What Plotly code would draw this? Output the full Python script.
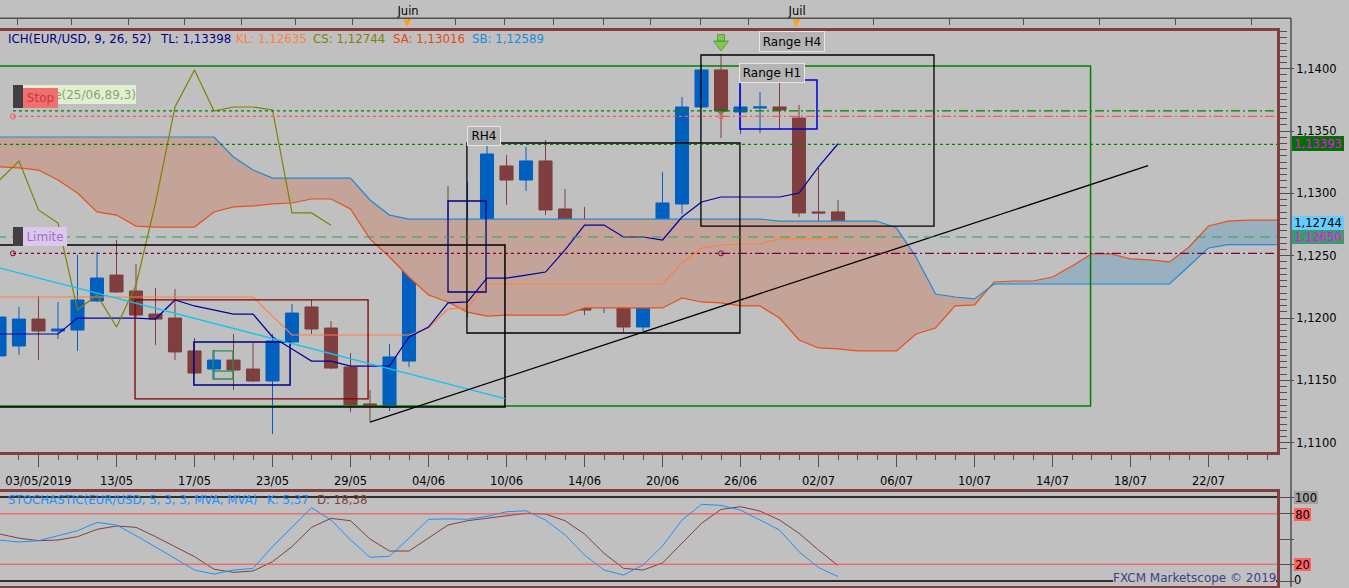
import plotly.graph_objects as go

# daily EUR/USD candles, index 0..43
opens = [1.11696, 1.11776, 1.11992, 1.11896, 1.11904, 1.12137, 1.12345, 1.12217, 1.12032, 1.12000,
         1.11736, 1.11591, 1.11663, 1.11591, 1.11495, 1.11808, 1.12089, 1.11920, 1.11607, 1.11311,
         1.11286, 1.11655, 1.12393, 1.12514, 1.12201, 1.12754, 1.13220, 1.13107, 1.13260, 1.12875,
         1.12770, 1.12089, 1.12185, 1.11928, 1.12257, 1.12915, 1.13693, 1.13990, 1.13653, 1.13685,
         1.13693, 1.13604, 1.12851, 1.12851]
highs = [1.12105, 1.12089, 1.12177, 1.12129, 1.12506, 1.12530, 1.12626, 1.12433, 1.12241, 1.12233,
         1.11840, 1.11744, 1.11872, 1.11800, 1.11872, 1.12113, 1.12145, 1.11976, 1.11720, 1.11423,
         1.11792, 1.12618, 1.12770, 1.13059, 1.13091, 1.13380, 1.13308, 1.13372, 1.13428, 1.13035,
         1.12891, 1.12466, 1.12425, 1.12538, 1.13171, 1.13773, 1.14038, 1.14118, 1.13877, 1.13813,
         1.13885, 1.13709, 1.13204, 1.12947]
lows = [1.11688, 1.11704, 1.11663, 1.11832, 1.11736, 1.12129, 1.12201, 1.12000, 1.11784, 1.11663,
        1.11551, 1.11511, 1.11423, 1.11487, 1.11070, 1.11800, 1.11872, 1.11591, 1.11246, 1.11166,
        1.11254, 1.11607, 1.12265, 1.12193, 1.12008, 1.12746, 1.12907, 1.13019, 1.12826, 1.12690,
        1.12024, 1.12040, 1.11888, 1.11896, 1.12249, 1.12834, 1.13685, 1.13444, 1.13476, 1.13484,
        1.13508, 1.12810, 1.12754, 1.12690]
closes = [1.12008, 1.11992, 1.11896, 1.11912, 1.12145, 1.12321, 1.12209, 1.12024, 1.11992, 1.11728,
          1.11559, 1.11663, 1.11583, 1.11495, 1.11816, 1.12040, 1.11912, 1.11599, 1.11303, 1.11295,
          1.11688, 1.12401, 1.12514, 1.12201, 1.12762, 1.13316, 1.13107, 1.13260, 1.12867, 1.12762,
          1.12064, 1.12185, 1.11928, 1.12265, 1.12923, 1.13693, 1.13990, 1.13661, 1.13693, 1.13693,
          1.13669, 1.12843, 1.12843, 1.12744]

# ichimoku lines
tenkan = [1.11872, 1.11872, 1.11872, 1.11872, 1.12000, 1.12000, 1.12000, 1.12000, 1.11992, 1.12145,
          1.12097, 1.12064, 1.12032, 1.12032, 1.11848, 1.11752, 1.11655, 1.11655, 1.11615, 1.11615,
          1.11615, 1.11848, 1.11928, 1.12121, 1.12129, 1.12321, 1.12321, 1.12345, 1.12369, 1.12546,
          1.12746, 1.12746, 1.12650, 1.12650, 1.12626, 1.12810, 1.12931, 1.12971, 1.12971, 1.12971,
          1.12971, 1.13003, 1.13212, 1.13398]
kijun = [1.12169, 1.12169, 1.12169, 1.12169, 1.12169, 1.12169, 1.12169, 1.12169, 1.12169, 1.12169,
         1.12169, 1.12169, 1.12169, 1.12169, 1.12016, 1.11864, 1.11864, 1.11864, 1.11864, 1.11864,
         1.11864, 1.11864, 1.11920, 1.12073, 1.12081, 1.12273, 1.12273, 1.12273, 1.12273, 1.12273,
         1.12273, 1.12273, 1.12273, 1.12273, 1.12273, 1.12442, 1.12562, 1.12586, 1.12594, 1.12594,
         1.12635, 1.12635, 1.12635, 1.12635]
# senkou spans (already shifted 26 bars forward), index 0..66
senkou_a = [1.13212, 1.13204, 1.13187, 1.13107, 1.13003, 1.12851, 1.12826, 1.12738, 1.12730, 1.12730,
            1.12730, 1.12851, 1.12891, 1.12899, 1.12915, 1.12923, 1.12955, 1.12955, 1.12875, 1.12634,
            1.12490, 1.12329, 1.12185, 1.12129, 1.12048, 1.12016, 1.12024, 1.12024, 1.12024, 1.12024,
            1.12081, 1.12081, 1.12081, 1.12081, 1.12081, 1.12161, 1.12129, 1.12121, 1.12097, 1.12097,
            1.12000, 1.11824, 1.11760, 1.11752, 1.11736, 1.11736, 1.11736, 1.11872, 1.11920, 1.12097,
            1.12105, 1.12289, 1.12297, 1.12297, 1.12329, 1.12417, 1.12514, 1.12514, 1.12474, 1.12466,
            1.12450, 1.12570, 1.12738, 1.12778, 1.12786, 1.12786, 1.12786]
senkou_b = [1.13452, 1.13452, 1.13452, 1.13452, 1.13452, 1.13452, 1.13452, 1.13452, 1.13452, 1.13452,
            1.13452, 1.13452, 1.13292, 1.13187, 1.13123, 1.13123, 1.13123, 1.13123, 1.13123, 1.12947,
            1.12826, 1.12794, 1.12794, 1.12794, 1.12794, 1.12794, 1.12794, 1.12794, 1.12794, 1.12794,
            1.12794, 1.12794, 1.12794, 1.12794, 1.12794, 1.12794, 1.12794, 1.12794, 1.12794, 1.12794,
            1.12778, 1.12778, 1.12778, 1.12778, 1.12778, 1.12778, 1.12722, 1.12490, 1.12193, 1.12169,
            1.12153, 1.12273, 1.12273, 1.12273, 1.12273, 1.12273, 1.12273, 1.12273, 1.12273, 1.12273,
            1.12273, 1.12417, 1.12562, 1.12589, 1.12589, 1.12589, 1.12589]

# stochastic (5,3,3)
stoch_k = [48.8, 46.4, 48, 54, 59.9, 69.8, 66.7, 54, 41, 27, 13, 8.3, 13, 15, 41, 64, 87.3, 72.6,
           49, 28.2, 29.4, 51, 73.4, 74, 73.5, 77, 82.5, 83.7, 72.6, 55, 31, 13, 7.1, 19, 41.7,
           72.6, 91.3, 90.1, 84.5, 72.6, 60.7, 34.9, 16, 5.37]
stoch_d = [56, 51, 48, 48.8, 52.8, 61.5, 65.5, 63.9, 52.8, 41, 29, 14, 10.3, 11.9, 23, 41, 63.9,
           74.6, 71.8, 50, 35.7, 35.7, 50.8, 66.7, 71.8, 74.6, 77.4, 80.6, 79.8, 71.8, 56, 33, 15.1,
           13, 21.5, 44.9, 68.7, 85.3, 88.5, 83.3, 72.6, 56.8, 36.9, 18.38]

date_ticks = [2, 6, 10, 14, 18, 22, 26, 30, 34, 38, 42, 46, 50, 54, 58, 62]
date_labels = ["03/05/2019", "13/05", "17/05", "23/05", "29/05", "04/06", "10/06", "14/06",
               "20/06", "26/06", "02/07", "06/07", "10/07", "14/07", "18/07", "22/07"]
month_ticks = [0.9, 3.7, 6.6, 9.5, 12.4, 15.2, 18.1, 20.95, 23.4, 25.9, 28.4, 30.95, 33.4,
               35.95, 38.4, 40.9, 44.8, 48.7, 52.5, 56.4, 60.3, 64.2]
month_labels = ["", "", "", "", "", "", "", "Juin", "", "", "", "", "", "", "", "Juil",
                "", "", "", "", "", ""]

# hand drawn objects on the chart: (x0, x1, price0, price1, colour, width)
boxes = [(-2, 55.95, 1.11295, 1.14022, "#008000", 1.5),
         (-2, 25.92, 1.11286, 1.12586, "#000000", 1.5),
         (6.95, 18.9, 1.11351, 1.12145, "#800000", 1.3),
         (9.97, 14.9, 1.11463, 1.11808, "#000080", 1.5),
         (10.95, 11.97, 1.11511, 1.11736, "#2e8b57", 1.3),
         (23.0, 24.95, 1.12209, 1.12939, "#000080", 1.3),
         (23.97, 37.97, 1.11880, 1.13404, "#000000", 1.3),
         (35.97, 47.92, 1.12738, 1.14110, "#000000", 1.3),
         (37.97, 41.92, 1.13516, 1.13909, "#0000dd", 1.5)]
# (x0, price0, x1, price1, colour, width)
segments = [(0.03, 1.12401, 25.92, 1.11353, "#10c4f4", 1.3),
            (19.0, 1.11166, 58.9, 1.13222, "#000000", 1.3),
            (10.95, 1.11575, 11.97, 1.11575, "#2e8b57", 1.3)]
DOT = "3px,3px"
DASHDOT = "9px,3px,2px,3px"
# (price, x0, x1, colour, dash)
levels = [(1.13661, 0.69, 37, "#008000", DOT), (1.13661, 37, 66, "#008000", DASHDOT),
          (1.13618, 0.69, 37, "#ff5555", DOT), (1.13618, 37, 66, "#ff5555", DASHDOT),
          (1.13393, -1, 66, "#008000", DOT),
          (1.12650, -1, 66, "#2e9e5e", "10px,6px"),
          (1.12519, 0.69, 37, "#800040", DOT), (1.12519, 37, 66, "#800040", DASHDOT)]
order_x = [0.69, 0.69, 37, 37, 37]
order_p = [1.13618, 1.12519, 1.13661, 1.13618, 1.12519]
order_c = ["#ff5555", "#800040", "#008000", "#ff5555", "#800040"]

BG = "#c0c0c0"
BORDER = "#804040"
GREY = "#505050"
W, H = 1277.0, 588.0


def px(x):
    return x / W


def py(y):
    return 1 - y / H


X_RANGE = [0.026, 65.51]
Y_RANGE = [1.109256, 1.143024]

idx = list(range(len(closes)))
chikou = closes[26:]

fig = go.Figure()

# kumo: split the fill where the spans cross
cx, ca, cb = [], [], []
for i in range(len(senkou_a)):
    if i > 0:
        d0 = senkou_a[i - 1] - senkou_b[i - 1]
        d1 = senkou_a[i] - senkou_b[i]
        if d0 * d1 < 0:
            t = d0 / (d0 - d1)
            v = senkou_a[i - 1] + t * (senkou_a[i] - senkou_a[i - 1])
            cx.append(i - 1 + t)
            ca.append(v)
            cb.append(v)
    cx.append(i)
    ca.append(senkou_a[i])
    cb.append(senkou_b[i])
lo = [min(a, b) for a, b in zip(ca, cb)]
for upper, col in ((cb, "#c4a498"), (ca, "#98b0bf")):
    fig.add_trace(go.Scatter(x=cx, y=lo, mode="lines", line=dict(width=0), hoverinfo="skip"))
    fig.add_trace(go.Scatter(x=cx, y=upper, mode="lines", line=dict(width=0), fill="tonexty",
                             fillcolor=col, hoverinfo="skip"))

fig.add_trace(go.Candlestick(
    x=idx, open=opens, high=highs, low=lows, close=closes, whiskerwidth=0,
    increasing=dict(line=dict(color="#0060c0", width=1), fillcolor="#0060c0"),
    decreasing=dict(line=dict(color="#7f3f3f", width=1), fillcolor="#7f3f3f"),
    hoverinfo="skip"))

for ys, xs, col in ((senkou_a, list(range(len(senkou_a))), "#e8501a"),
                    (senkou_b, list(range(len(senkou_b))), "#1e8ad6"),
                    (kijun, idx, "#ff7f40"),
                    (tenkan, idx, "#0000a0"),
                    (chikou, idx[:len(chikou)], "#808000")):
    fig.add_trace(go.Scatter(x=xs, y=ys, mode="lines", line=dict(color=col, width=1.2),
                             hoverinfo="skip"))

# order markers and the sell signal arrow
fig.add_trace(go.Scatter(x=order_x, y=order_p, mode="markers", hoverinfo="skip",
                         marker=dict(symbol="circle-open", size=5, color=order_c, line=dict(width=1))))
fig.add_trace(go.Scatter(x=[37, 37], y=[1.14246, 1.14196], mode="markers", hoverinfo="skip",
                         marker=dict(symbol=["square", "triangle-down"], size=[7, 13], color="#66cc22",
                                     line=dict(color="#3a8a10", width=1))))
# dummy trace so the top (month) axis is drawn
fig.add_trace(go.Scatter(x=[month_ticks[0]], y=[None], xaxis="x3", yaxis="y", mode="markers",
                         hoverinfo="skip"))

# stochastic panel
fig.add_trace(go.Scatter(x=idx, y=stoch_d, mode="lines", line=dict(color="#804040", width=1),
                         xaxis="x2", yaxis="y2", hoverinfo="skip"))
fig.add_trace(go.Scatter(x=idx, y=stoch_k, mode="lines", line=dict(color="#1e90ff", width=1),
                         xaxis="x2", yaxis="y2", hoverinfo="skip"))

shapes = []
for x0, x1, p0, p1, col, w in boxes:
    shapes.append(dict(type="rect", xref="x", yref="y", x0=x0, x1=x1, y0=p0, y1=p1,
                       line=dict(color=col, width=w), layer="above"))
for x0, p0, x1, p1, col, w in segments:
    shapes.append(dict(type="line", xref="x", yref="y", x0=x0, x1=x1, y0=p0, y1=p1,
                       line=dict(color=col, width=w), layer="above"))
for p, x0, x1, col, dash in levels:
    shapes.append(dict(type="line", xref="x", yref="y", x0=x0, x1=x1, y0=p, y1=p,
                       line=dict(color=col, width=1.2, dash=dash), layer="above"))
for lvl, col, w in ((100, "#000000", 1.5), (80, "#ff4848", 1), (20, "#ff4848", 1), (0, "#000000", 1.5)):
    shapes.append(dict(type="line", xref="paper", yref="y2", x0=0, x1=1, y0=lvl, y1=lvl,
                       line=dict(color=col, width=w)))
# frame line of the time axis on top and right
shapes.append(dict(type="line", xref="paper", yref="paper", x0=0, x1=px(1291), y0=py(18.3), y1=py(18.3),
                   line=dict(color=GREY, width=1.5)))
shapes.append(dict(type="line", xref="paper", yref="paper", x0=px(1291), x1=px(1291), y0=py(587),
                   y1=py(18.3), line=dict(color=GREY, width=1.5)))
# dark grips of the order labels
for y0, y1 in ((85, 108), (227, 246)):
    shapes.append(dict(type="rect", xref="paper", yref="paper", x0=px(13), x1=px(23), y0=py(y1), y1=py(y0),
                       fillcolor="#404040", line=dict(width=0)))

fig.update_layout(shapes=shapes)


def label(x, y, text, color, bg="rgba(0,0,0,0)", w=None, h=None, xanchor="left", size=11.8,
          border=None, align="center"):
    fig.add_annotation(xref="paper", yref="paper", x=px(x), y=py(y), text=text, showarrow=False,
                       xanchor=xanchor, yanchor="middle", font=dict(color=color, size=size),
                       bgcolor=bg, width=w, height=h, borderpad=0, align=align,
                       bordercolor=border if border else "rgba(0,0,0,0)", borderwidth=1 if border else 0)


# indicator headers
for x, txt, col in ((8, "ICH(EUR/USD, 9, 26, 52)", "#000080"), (160, "TL: 1,13398", "#000080"),
                    (236, "KL: 1,12635", "#ff8040"), (313, "CS: 1,12744", "#808000"),
                    (393, "SA: 1,13016", "#e04a10"), (472, "SB: 1,12589", "#1e8ad6")):
    label(x, 39, txt, col)
for x, txt, col in ((8, "STOCHASTIC(EUR/USD, 5, 3, 3, MVA, MVA)", "#1e90ff"), (267, "K: 5,37", "#1e90ff"),
                    (317, "D: 18,38", "#804040")):
    label(x, 500, txt, col)

# order tags
label(23, 94.5, "e(25/06,89,3)", "#90a070", bg="#e2f0d2", w=113, h=19, align="right", size=12)
label(23, 98, "Stop", "#c83838", bg="#f07070", w=35, h=20, size=12)
label(23, 236.5, "Limite", "#a070c8", bg="#dcc8ec", w=44, h=19, size=12)

# drawing captions
label(467, 136, "RH4", "black", bg="#b4b4b4", w=32, h=18, border="#e6e6e6", size=12)
label(739, 73, "Range H1", "black", bg="#b4b4b4", w=64, h=18, border="#e6e6e6", size=12)
label(759, 42, "Range H4", "black", bg="#b4b4b4", w=64, h=19, border="#e6e6e6", size=12)

# price markers on the right scale
label(1292, 143, "1,13393", "#ff00ff", bg="#007000", w=52, h=15, size=11.5)
label(1292, 223, "1,12744", "black", bg="#66ccff", w=52, h=14, size=11.5)
label(1292, 237, "1,12650", "#ff00ff", bg="#3c9a6c", w=52, h=14, size=11.5)
label(1294, 497, "100", "black", bg="#a0a0a0", w=24, h=13, size=11.5)
label(1294, 514, "80", "black", bg="#ff6060", w=17, h=13, size=11.5)
label(1294, 564, "20", "black", bg="#ff6060", w=17, h=13, size=11.5)
label(1294, 580, "0", "black", size=11.5)
label(1276, 578, "FXCM Marketscope \u00a9 2019", "#404080", bg=BG, xanchor="right", size=12)

# month markers on the top scale
for m in (month_ticks[7], month_ticks[15]):
    fig.add_annotation(xref="x", yref="paper", x=m, y=py(23), text="\u25bc", showarrow=False,
                       font=dict(color="#ffa020", size=10), yanchor="middle")

fig.update_layout(
    width=1349, height=588,
    margin=dict(l=0, r=72, t=0, b=0, pad=0),
    paper_bgcolor=BG, plot_bgcolor=BG,
    font=dict(family="DejaVu Sans", size=11.5, color="black"),
    separators=", ",
    showlegend=False,
    boxgap=0.33, boxgroupgap=0,
    xaxis=dict(domain=[0, 1], range=X_RANGE, anchor="y", tickmode="array", tickvals=date_ticks,
               ticktext=date_labels, ticks="outside", ticklen=12, tickcolor=GREY, ticklabelstandoff=4,
               minor=dict(tick0=0, dtick=1, ticks="outside", ticklen=5, tickcolor=GREY),
               showline=True, linecolor=BORDER, linewidth=3, mirror=True, showgrid=False,
               zeroline=False, rangeslider=dict(visible=False), automargin=False),
    xaxis2=dict(domain=[0, 1], range=X_RANGE, anchor="y2", showticklabels=False, ticks="",
                showline=True, linecolor=BORDER, linewidth=3, mirror=True, showgrid=False,
                zeroline=False, automargin=False),
    xaxis3=dict(overlaying="x", anchor="free", position=py(18.3), side="top", range=X_RANGE,
                tickmode="array", tickvals=month_ticks, ticktext=month_labels, ticks="inside",
                ticklen=6, tickcolor=GREY, showline=False, showgrid=False, zeroline=False,
                ticklabelstandoff=1, automargin=False),
    yaxis=dict(domain=[py(452), py(31)], range=Y_RANGE, anchor="x", side="right",
               tickformat=".4f", tick0=1.14, dtick=0.005, ticks="outside", ticklen=14, tickcolor=GREY,
               minor=dict(tick0=1.14, dtick=0.0005, ticks="outside", ticklen=7, tickcolor=GREY),
               showline=True, linecolor=BORDER, linewidth=3, showgrid=False, zeroline=False,
               automargin=False),
    yaxis2=dict(domain=[py(585.7), py(492)], range=[-5.6, 106], anchor="x2", side="right",
                tickmode="array", tickvals=[0, 20, 50, 80, 100], showticklabels=False,
                ticks="outside", ticklen=14, tickcolor=GREY, showline=True, linecolor=BORDER,
                linewidth=3, showgrid=False, zeroline=False, automargin=False),
)

fig.write_html("out.html", config={"displayModeBar": False},
               post_script="document.body.style.margin='0';document.body.style.overflow='hidden';")
